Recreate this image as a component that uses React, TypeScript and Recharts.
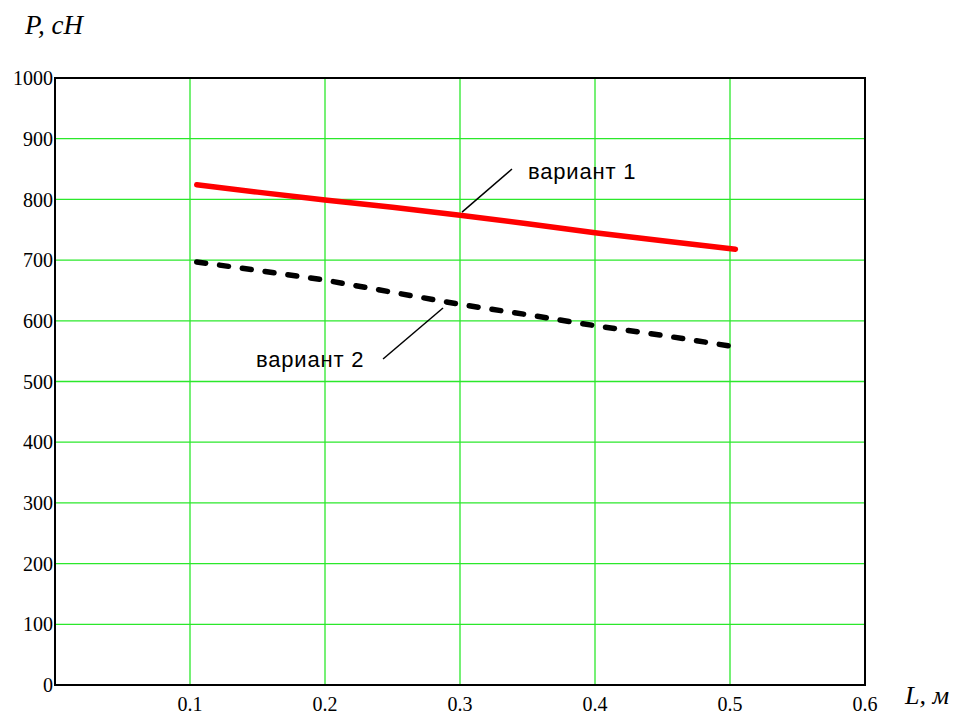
import { LineChart, Line, XAxis, YAxis, CartesianGrid, ReferenceLine, ReferenceArea } from "recharts";

// Длина L, м
const L = [0.105, 0.15, 0.2, 0.25, 0.3, 0.35, 0.4, 0.45, 0.504];
// Усилие P, сН
const P1 = [824, 812, 799, 787, 774, 760, 745, 732, 718];
const P2 = [697, 683, 667, 647, 627, 610, 592, 576, 557];

const X_TICKS = [0.1, 0.2, 0.3, 0.4, 0.5, 0.6];
const Y_TICKS = [0, 100, 200, 300, 400, 500, 600, 700, 800, 900, 1000];
const GRID_X = [0.1, 0.2, 0.3, 0.4, 0.5];
const GRID_Y = [100, 200, 300, 400, 500, 600, 700, 800, 900];

const data = L.map((l, i) => ({ l, p1: P1[i], p2: P2[i] }));

const serif = "'Liberation Serif', 'Times New Roman', serif";
const sans = "'Liberation Sans', Arial, sans-serif";
const tickStyle = { fontSize: 20, fill: "#000", fontFamily: serif };
const noteStyle = { position: "absolute" as const, fontFamily: sans, fontSize: 22, letterSpacing: 0.8, lineHeight: "24px" };

export default function App() {
  return (
    <div style={{ position: "absolute", left: 0, top: 0, width: 957, height: 716, background: "#fff" }}>
      <LineChart width={957} height={716} data={data} margin={{ top: 78, right: 92, bottom: 0, left: 0 }}>
        <CartesianGrid stroke="#2be82b" strokeWidth={1.3} horizontalValues={GRID_Y} verticalValues={GRID_X} />
        <XAxis
          dataKey="l" type="number" domain={[0, 0.6]} ticks={X_TICKS} height={31}
          tick={tickStyle} tickLine={false} axisLine={false} tickSize={0} tickMargin={12}
          tickFormatter={(v: number) => v.toFixed(1)} allowDataOverflow
        />
        <YAxis
          type="number" domain={[0, 1000]} ticks={Y_TICKS} width={55}
          tick={tickStyle} tickLine={false} axisLine={false} tickSize={0} tickMargin={2}
        />
        <ReferenceArea x1={0} x2={0.6} y1={0} y2={1000} fill="none" stroke="#000" strokeWidth={2} />
        <Line dataKey="p1" stroke="#ff0000" strokeWidth={5.5} dot={false} isAnimationActive={false} strokeLinecap="round" />
        <Line dataKey="p2" stroke="#000" strokeWidth={5.5} dot={false} isAnimationActive={false}
          strokeLinecap="round" strokeDasharray="9 14" />
        <ReferenceLine segment={[{ x: 0.3385, y: 850 }, { x: 0.3015, y: 779 }]} stroke="#000" strokeWidth={1.5} />
        <ReferenceLine segment={[{ x: 0.243, y: 537 }, { x: 0.2874, y: 621 }]} stroke="#000" strokeWidth={1.5} />
      </LineChart>
      <div style={{ position: "absolute", left: 25, top: 10, fontFamily: serif, fontStyle: "italic", fontSize: 27, lineHeight: "31px" }}>P, cH</div>
      <div style={{ position: "absolute", left: 905, top: 681, fontFamily: serif, fontStyle: "italic", fontSize: 26, lineHeight: "30px" }}>L, м</div>
      <div style={{ ...noteStyle, left: 528, top: 160 }}>вариант 1</div>
      <div style={{ ...noteStyle, left: 256, top: 348 }}>вариант 2</div>
    </div>
  );
}
